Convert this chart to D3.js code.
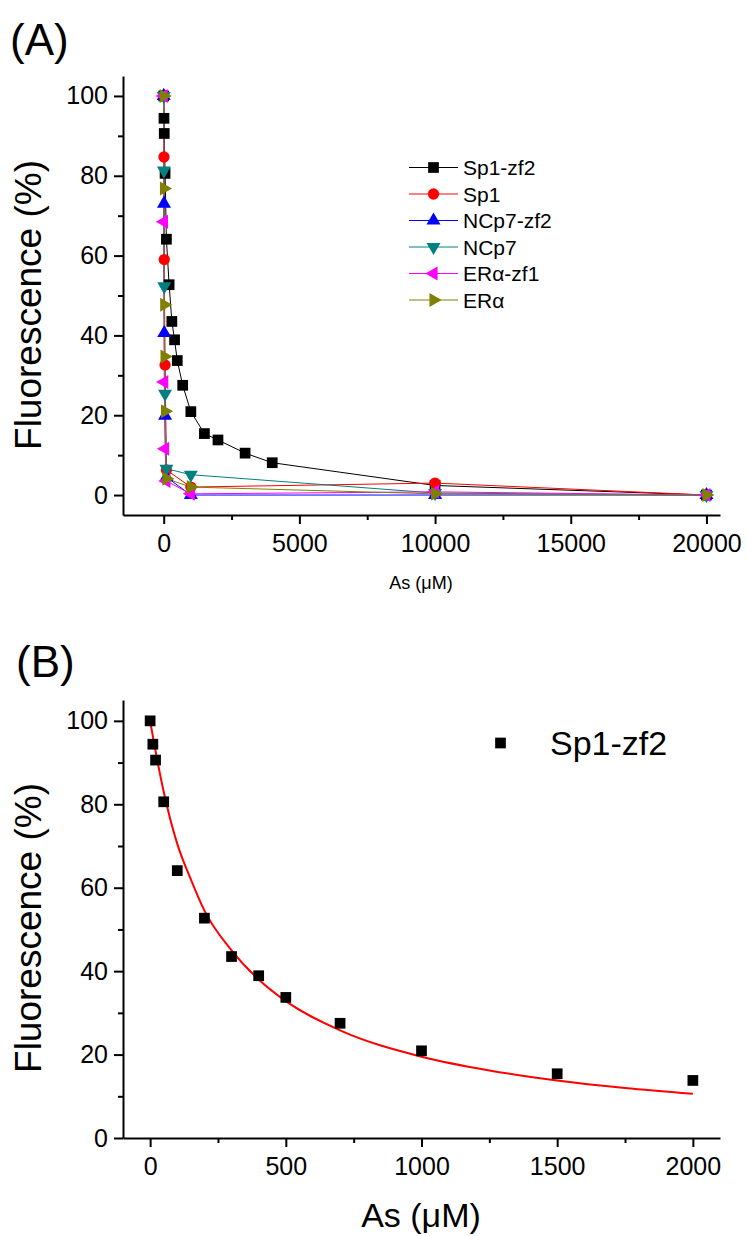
<!DOCTYPE html>
<html>
<head>
<meta charset="utf-8">
<script src="https://cdn.jsdelivr.net/npm/d3@7"></script>
<style>
  body { margin: 0; background: #fff; }
  svg { display: block; font-family: "Liberation Sans", Arial, sans-serif; }
</style>
</head>
<body>
<svg id="chart" width="747" height="1236"></svg>
<script>
// ---- data ----
const seriesNames = ["Sp1-zf2", "Sp1", "NCp7-zf2", "NCp7", "ERα-zf1", "ERα"];
const seriesColors = ["#000000", "#ff0000", "#0000ff", "#008080", "#ff00ff", "#808000"];

// Sp1-zf2 titration (panel A uses all, panel B the first 13)
const asSp1zf2 = [0, 10, 20, 50, 100, 200, 300, 400, 500, 700, 1000, 1500, 2000, 3000, 4000, 10000, 20000];
const fluoSp1zf2 = [100, 94.4, 90.6, 80.6, 64.1, 52.7, 43.5, 38.9, 33.7, 27.5, 20.9, 15.4, 13.8, 10.5, 8.1, 2.4, 0];

const asShort = [0, 10, 20, 50, 100, 1000, 10000, 20000];
const fluoSp1 = [100, 84.7, 59.0, 32.6, 6.3, 2.0, 3.0, 0];
const fluoNCp7zf2 = [100, 73.0, 40.6, 19.9, 4.5, 0, 0, 0];
const fluoNCp7 = [100, 81.3, 52.3, 25.4, 6.6, 5.1, 0.5, 0];
const fluoERzf1 = [100, 68.5, 28.3, 11.6, 3.5, 0.3, 0.8, 0];
const asER = [0, 10, 20, 30, 50, 100, 1000, 10000, 20000];
const fluoER = [100, 76.8, 47.7, 34.7, 21.0, 4.1, 2.0, 0.3, 0];

// panel B fit curve, sampled from the red line
const fitAs = [0, 25, 50, 100, 150, 200, 300, 400, 500, 700, 1000, 1250, 1500, 1750, 2000];
const fitFluo = [100, 91, 83, 70.5, 62, 54.5, 45, 38, 32.8, 25.8, 19.5, 16.2, 13.8, 12, 10.6];

// tick values
const yMajor = [0, 20, 40, 60, 80, 100];
const yMinor = [10, 30, 50, 70, 90];
const xMajorA = [0, 5000, 10000, 15000, 20000];
const xMinorA = [2500, 7500, 12500, 17500];
const xMajorB = [0, 500, 1000, 1500, 2000];
const xMinorB = [250, 750, 1250, 1750];

const seriesX = [asSp1zf2, asShort, asShort, asShort, asShort, asER];
const seriesY = [fluoSp1zf2, fluoSp1, fluoNCp7zf2, fluoNCp7, fluoERzf1, fluoER];

// marker shape + rotation per series
const symbols = [
  {type: d3.symbolSquare, size: 115, rot: 0},
  {type: d3.symbolCircle, size: 100, rot: 0},
  {type: d3.symbolTriangle, size: 85, rot: 0},
  {type: d3.symbolTriangle, size: 85, rot: 180},
  {type: d3.symbolTriangle, size: 85, rot: -90},
  {type: d3.symbolTriangle, size: 85, rot: 90}
];

const svg = d3.select("#chart");
const FONT_TICK = 25;
const fmt = d3.format("d");

/** draws left and bottom axes with major + minor ticks */
function drawAxes(g, x, y, xMajor, xMinor, xAxisY) {
  const left = x.range()[0];

  const yAx = g.append("g").attr("transform", `translate(${left},0)`)
    .call(d3.axisLeft(y).tickValues(yMajor).tickFormat(fmt).tickSize(9).tickSizeOuter(0).tickPadding(6));
  g.append("g").attr("transform", `translate(${left},0)`)
    .call(d3.axisLeft(y).tickValues(yMinor).tickSize(5).tickFormat(""))
    .select(".domain").remove();

  const xAx = g.append("g").attr("transform", `translate(0,${xAxisY})`)
    .call(d3.axisBottom(x).tickValues(xMajor).tickFormat(fmt).tickSize(9).tickSizeOuter(0).tickPadding(10));
  g.append("g").attr("transform", `translate(0,${xAxisY})`)
    .call(d3.axisBottom(x).tickValues(xMinor).tickSize(5).tickFormat(""))
    .select(".domain").remove();

  g.selectAll(".domain, .tick line").attr("stroke", "#000").attr("stroke-width", 2);
  [yAx, xAx].forEach(a => a.selectAll("text")
    .attr("font-size", FONT_TICK).attr("fill", "#000")
    .style("font-family", "'Liberation Sans', Arial, sans-serif"));
}

// ================= Panel A =================
const xA = d3.scaleLinear().domain([-1500, 20500]).range([123, 720]);
const yA = d3.scaleLinear().domain([-5, 105]).range([515, 76]);
const gA = svg.append("g");

gA.append("text").attr("x", 10).attr("y", 55).attr("font-size", 44).text("(A)");

drawAxes(gA, xA, yA, xMajorA, xMinorA, 515);

seriesNames.forEach((name, i) => {
  const pts = seriesX[i].map((v, k) => [v, seriesY[i][k]]);
  gA.append("path")
    .datum(pts)
    .attr("fill", "none")
    .attr("stroke", seriesColors[i])
    .attr("stroke-width", 1)
    .attr("d", d3.line().x(d => xA(d[0])).y(d => yA(d[1])));
});
seriesNames.forEach((name, i) => {
  const pts = seriesX[i].map((v, k) => [v, seriesY[i][k]]);
  const rot = symbols[i].rot;
  gA.append("g").selectAll("path")
    .data(pts)
    .enter()
    .append("path")
    .attr("d", d3.symbol().type(symbols[i].type).size(symbols[i].size)())
    .attr("fill", seriesColors[i])
    .attr("transform", d => `translate(${xA(d[0])},${yA(d[1])}) rotate(${rot})`);
});

// legend A
const legA = gA.append("g");
seriesNames.forEach((name, i) => {
  const ly = 167.5 + i * 26.5;
  legA.append("line").attr("x1", 409).attr("x2", 458).attr("y1", ly).attr("y2", ly)
    .attr("stroke", seriesColors[i]).attr("stroke-width", 1);
  legA.append("path")
    .attr("d", d3.symbol().type(symbols[i].type).size(symbols[i].size)())
    .attr("fill", seriesColors[i])
    .attr("transform", `translate(433.5,${ly}) rotate(${symbols[i].rot})`);
  legA.append("text").attr("x", 463).attr("y", ly).attr("dy", "0.36em")
    .attr("font-size", 21).text(name);
});

gA.append("text").attr("x", 421).attr("y", 589).attr("text-anchor", "middle")
  .attr("font-size", 18).text("As (μM)");
gA.append("text").attr("transform", "translate(41,305) rotate(-90)")
  .attr("text-anchor", "middle").attr("font-size", 37).text("Fluorescence (%)");

// ================= Panel B =================
const xB = d3.scaleLinear().domain([-100, 2100]).range([123, 720]);
const yB = d3.scaleLinear().domain([0, 105]).range([1138, 700]);
const gB = svg.append("g");

gB.append("text").attr("x", 16).attr("y", 677).attr("font-size", 44).text("(B)");

drawAxes(gB, xB, yB, xMajorB, xMinorB, 1138);

const fitPts = fitAs.map((v, k) => [v, fitFluo[k]]);
gB.append("path")
  .datum(fitPts)
  .attr("fill", "none")
  .attr("stroke", "#ff0000")
  .attr("stroke-width", 2)
  .attr("d", d3.line().curve(d3.curveMonotoneX).x(d => xB(d[0])).y(d => yB(d[1])));

const ptsB = asSp1zf2.slice(0, 13).map((v, k) => [v, fluoSp1zf2[k]]);
gB.append("g").selectAll("path")
  .data(ptsB)
  .enter()
  .append("path")
  .attr("d", d3.symbol().type(d3.symbolSquare).size(115)())
  .attr("fill", "#000")
  .attr("transform", d => `translate(${xB(d[0])},${yB(d[1])})`);

// legend B (scatter only)
gB.append("path")
  .attr("d", d3.symbol().type(d3.symbolSquare).size(115)())
  .attr("fill", "#000")
  .attr("transform", "translate(500.5,743)");
gB.append("text").attr("x", 550).attr("y", 743).attr("dy", "0.36em")
  .attr("font-size", 34).text("Sp1-zf2");

gB.append("text").attr("x", 421).attr("y", 1227).attr("text-anchor", "middle")
  .attr("font-size", 34).text("As (μM)");
gB.append("text").attr("transform", "translate(41,928) rotate(-90)")
  .attr("text-anchor", "middle").attr("font-size", 37).text("Fluorescence (%)");
</script>
</body>
</html>
